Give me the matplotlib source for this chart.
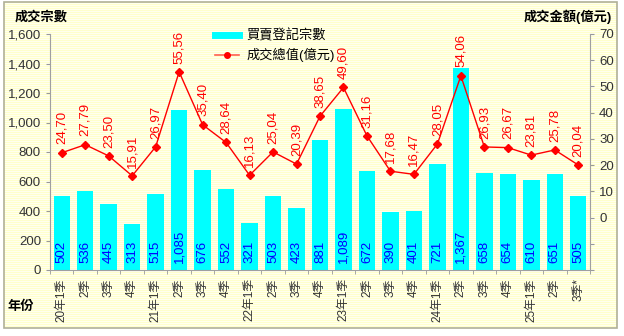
import numpy as np
import matplotlib
matplotlib.use("Agg")
import matplotlib.pyplot as plt
from matplotlib.patches import Rectangle
from matplotlib.lines import Line2D

plt.rcParams['font.family'] = ['Liberation Sans', 'Noto Sans CJK TC', 'DejaVu Sans']

# 季度標籤
quarters = ["20年1季", "2季", "3季", "4季",
            "21年1季", "2季", "3季", "4季",
            "22年1季", "2季", "3季", "4季",
            "23年1季", "2季", "3季", "4季",
            "24年1季", "2季", "3季", "4季",
            "25年1季", "2季", "3季*"]
# 買賣登記宗數
deals = [502, 536, 445, 313, 515, 1085, 676, 552, 321, 503, 423, 881,
         1089, 672, 390, 401, 721, 1367, 658, 654, 610, 651, 505]
# 成交總值(億元)
values = [24.70, 27.79, 23.50, 15.91, 26.97, 55.56, 35.40, 28.64, 16.13, 25.04,
          20.39, 38.65, 49.60, 31.16, 17.68, 16.47, 28.05, 54.06, 26.93, 26.67,
          23.81, 25.78, 20.04]

W, H = 624, 336
fig = plt.figure(figsize=(W / 100, H / 100), dpi=100)
fig.patch.set_alpha(0)

# 背景條紋
bg = np.ones((H, W, 3))
stripe = np.array([1.0, 1.0, 0.80])
light = np.array([1.0, 1.0, 0.94])
for r in range(2, 328):
    bg[r, 4:617] = stripe if r % 2 == 0 else light
fig.figimage(bg, xo=0, yo=0, zorder=-10, origin='upper')
fig.patches.append(Rectangle((4 / W, 1 - 328 / H), 613 / W, 326 / H, transform=fig.transFigure,
                             fill=False, edgecolor='#B0B098', linewidth=1.2, zorder=1))

ax = fig.add_axes([50 / W, 1 - 270 / H, 540 / W, 236 / H])
ax.set_facecolor('none')
ax2 = ax.twinx()
ax2.set_facecolor('none')

x = np.arange(len(deals))
ax.bar(x, deals, width=0.7, color='#00FFFF', zorder=2)
for xi, d in zip(x, deals):
    ax.annotate(f"{d:,}", (xi, 0), xytext=(0, 5), textcoords='offset points',
                rotation=90, ha='center', va='bottom', color='#0000FF', fontsize=9.5)

ax2.plot(x, values, color='#FF0000', linewidth=1, marker='D', markersize=4.5, zorder=3)
for xi, v in zip(x, values):
    ax2.annotate(f"{v:.2f}".replace('.', ','), (xi, v), xytext=(0, 6), textcoords='offset points',
                 rotation=90, ha='center', va='bottom', color='#FF0000', fontsize=9.5)

ax.set_xlim(-0.5, len(deals) - 0.5)
ax.set_ylim(0, 1600)
ax.set_yticks(range(0, 1601, 200))
ax.set_yticklabels([f"{t:,}" for t in range(0, 1601, 200)])
ax2.set_ylim(-20, 70)
ax2.set_yticks(range(-20, 71, 10))
ax2.set_yticklabels(['' if t < 0 else str(t) for t in range(-20, 71, 10)])

ax.set_xticks(x)
ax.set_xticklabels(quarters, rotation=90, va='top', ha='center')
ax.set_xticks(np.arange(-0.5, len(deals), 1), minor=True)
ax.tick_params(axis='x', which='major', length=0, pad=6, labelsize=8.5, labelcolor='#333333')
ax.tick_params(axis='x', which='minor', length=3, color='#999999')
ax.tick_params(axis='y', length=3, color='#999999', labelsize=9.5, labelcolor='#333333')
ax2.tick_params(axis='y', length=3, color='#999999', labelsize=9.5, labelcolor='#333333')

for a in (ax, ax2):
    a.spines['top'].set_visible(False)
    for s in ('left', 'right', 'bottom'):
        a.spines[s].set_color('#A0A0A0')
ax.spines['right'].set_visible(False)
ax2.spines['left'].set_visible(False)
ax2.spines['bottom'].set_visible(False)

fig.text(15 / W, 1 - 17 / H, "成交宗數", fontsize=9.5, fontweight='bold', va='center', ha='left')
fig.text(612 / W, 1 - 17 / H, "成交金額(億元)", fontsize=9.5, fontweight='bold', va='center', ha='right')
fig.text(8 / W, 1 - 307 / H, "年份", fontsize=9.5, fontweight='bold', va='center', ha='left')

handles = [Line2D([], [], color='#00FFFF', linewidth=5),
           Line2D([], [], color='#FF6050', linewidth=1.2, marker='o', markersize=4,
                  markerfacecolor='#FF0000', markeredgecolor='#FF0000')]
fig.legend(handles, ["買賣登記宗數", "成交總值(億元)"], loc='upper left',
           bbox_to_anchor=(203 / W, 1 - 17 / H), frameon=False, fontsize=9.5,
           handlelength=1.8, handletextpad=0.6, labelspacing=0.45)

fig.savefig("out.png", dpi=100)
